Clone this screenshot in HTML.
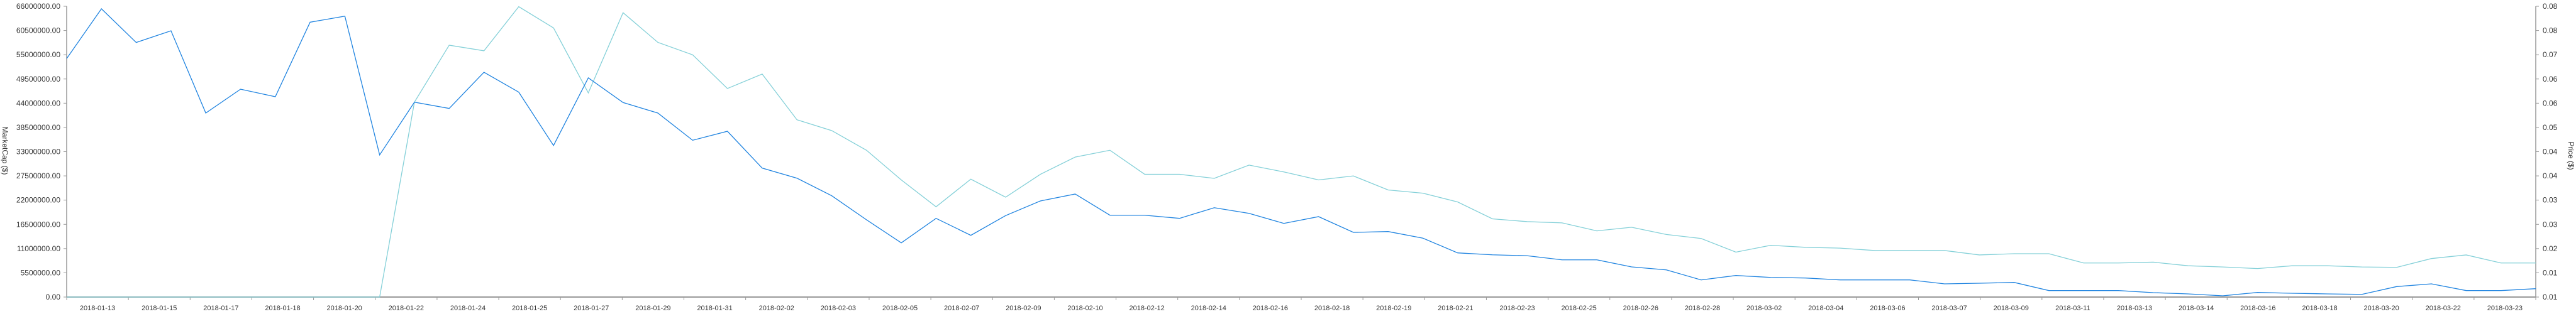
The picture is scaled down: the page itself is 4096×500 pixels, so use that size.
<!DOCTYPE html>
<html><head><meta charset="utf-8"><style>
html,body{margin:0;padding:0;background:#fff;}
svg{display:block;font-family:"Liberation Sans",sans-serif;}
</style></head><body>
<svg id="chart" width="4096" height="500" viewBox="0 0 4096 500"></svg>
<script>
const marketCap = [54.13,65.43,57.78,60.44,41.77,47.18,45.47,62.39,63.76,32.26,44.23,42.81,51.03,46.51,34.40,49.75,44.15,41.77,35.59,37.63,29.27,26.98,22.99,17.53,12.30,17.86,14.01,18.49,21.81,23.38,18.57,18.57,17.86,20.28,19.00,16.72,18.25,14.68,14.87,13.36,10.02,9.59,9.37,8.45,8.45,6.84,6.17,3.89,4.89,4.46,4.32,3.89,3.89,3.89,2.99,3.14,3.32,1.47,1.47,1.47,1.00,0.71,0.29,1.04,0.86,0.71,0.61,2.38,2.99,1.47,1.47,1.90];
const price = [0.0075,0.0075,0.0075,0.0075,0.0075,0.0075,0.0075,0.0075,0.0075,0.0075,0.0561,0.0703,0.0689,0.0799,0.0746,0.0584,0.0784,0.0710,0.0679,0.0595,0.0631,0.0517,0.0490,0.0441,0.0367,0.0300,0.0369,0.0324,0.0381,0.0424,0.0441,0.0381,0.0381,0.0371,0.0404,0.0387,0.0367,0.0377,0.0342,0.0334,0.0312,0.0270,0.0263,0.0260,0.0240,0.0249,0.0231,0.0221,0.0187,0.0204,0.0199,0.0197,0.0191,0.0191,0.0191,0.0180,0.0183,0.0183,0.0160,0.0160,0.0162,0.0153,0.0150,0.0146,0.0153,0.0153,0.0150,0.0149,0.0171,0.0180,0.0160,0.0160];
const xTickLabels = ["2018-01-13","2018-01-15","2018-01-17","2018-01-18","2018-01-20","2018-01-22","2018-01-24","2018-01-25","2018-01-27","2018-01-29","2018-01-31","2018-02-02","2018-02-03","2018-02-05","2018-02-07","2018-02-09","2018-02-10","2018-02-12","2018-02-14","2018-02-16","2018-02-18","2018-02-19","2018-02-21","2018-02-23","2018-02-25","2018-02-26","2018-02-28","2018-03-02","2018-03-04","2018-03-06","2018-03-07","2018-03-09","2018-03-11","2018-03-13","2018-03-14","2018-03-16","2018-03-18","2018-03-20","2018-03-22","2018-03-23"];
const leftTickValues = [0,5.5,11,16.5,22,27.5,33,38.5,44,49.5,55,60.5,66];
const rightTickLabels = ["0.01","0.01","0.02","0.03","0.03","0.04","0.04","0.05","0.06","0.06","0.07","0.08","0.08"];

const svg = document.getElementById('chart');
const NS = 'http://www.w3.org/2000/svg';
const L = 106, R = 4032, T = 10, B = 473;
const mcMax = 66, pMin = 0.0075, pMax = 0.08;
const xScale = i => L + i * (R - L) / (marketCap.length - 1);
const yLeft = v => B - v / mcMax * (B - T);
const yRight = v => B - (v - pMin) / (pMax - pMin) * (B - T);
function mk(tag, attrs, parent) {
  const e = document.createElementNS(NS, tag);
  for (const k in attrs) e.setAttribute(k, attrs[k]);
  (parent || svg).appendChild(e);
  return e;
}
const axisC = '#999';
// left axis
const gl = mk('g', {});


mk('line', {x1: L, y1: T, x2: L, y2: B, stroke: axisC, 'stroke-width': 1.5}, gl);
leftTickValues.forEach(v => {
  const y = yLeft(v);
  mk('line', {x1: L - 5, y1: y, x2: L, y2: y, stroke: axisC, 'stroke-width': 1}, gl);
  const t = mk('text', {x: 96, y: y + 4, 'text-anchor': 'end', 'font-size': 12, fill: '#333'}, gl);
  
  
  t.textContent = (v * 1e6).toFixed(2);
});
const lt = mk('text', {x: 0, y: 0, transform: 'translate(4,240) rotate(90)', 'text-anchor': 'middle', 'font-size': 12, fill: '#333'});


lt.textContent = 'MarketCap ($)';
// right axis
const gr = mk('g', {});


mk('line', {x1: R, y1: T, x2: R, y2: B, stroke: axisC, 'stroke-width': 1.5}, gr);
rightTickLabels.forEach((s, i) => {
  const y = B - i * (B - T) / (rightTickLabels.length - 1);
  mk('line', {x1: R, y1: y, x2: R + 5, y2: y, stroke: axisC, 'stroke-width': 1}, gr);
  const t = mk('text', {x: R + 11, y: y + 4, 'font-size': 12, fill: '#333'}, gr);
  
  
  t.textContent = s;
});
const rt = mk('text', {x: 0, y: 0, transform: 'translate(4084,248) rotate(90)', 'text-anchor': 'middle', 'font-size': 12, fill: '#333'});


rt.textContent = 'Price ($)';
// x axis
const gx = mk('g', {});


mk('line', {x1: L, y1: B, x2: R, y2: B, stroke: axisC, 'stroke-width': 2}, gx);
const step = (R - L) / xTickLabels.length;
for (let k = 0; k <= xTickLabels.length; k++) {
  const x = L + k * step;
  mk('line', {x1: x, y1: B, x2: x, y2: B + 5, stroke: axisC, 'stroke-width': 1}, gx);
}
xTickLabels.forEach((s, k) => {
  const t = mk('text', {x: L + (k + 0.5) * step, y: 494, 'text-anchor': 'middle', 'font-size': 11, fill: '#333'}, gx);
  
  
  t.textContent = s;
});
// series
const pp = mk('polyline', {points: price.map((v, i) => xScale(i) + ',' + yRight(v)).join(' '), fill: 'none', stroke: '#84d0d8', 'stroke-width': 1.3});


const mp = mk('polyline', {points: marketCap.map((v, i) => xScale(i) + ',' + yLeft(v)).join(' '), fill: 'none', stroke: '#2084e0', 'stroke-width': 1.3});


</script>
</body></html>
